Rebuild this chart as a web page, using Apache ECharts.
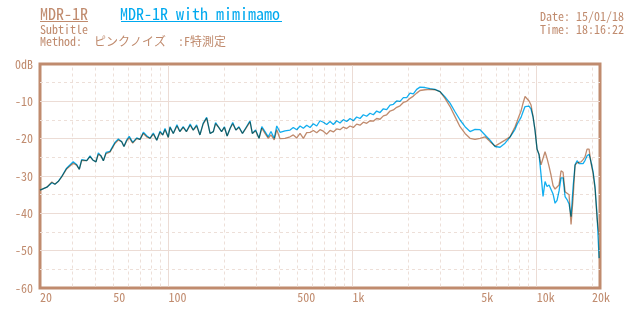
<!DOCTYPE html>
<html><head><meta charset="utf-8">
<script src="https://cdn.jsdelivr.net/npm/echarts@6/dist/echarts.min.js"></script>
<style>html,body{margin:0;padding:0;background:#fff}#c{width:640px;height:320px}</style>
</head><body><div id="c"></div>
<script>
// Frequencies (Hz) shared by both measurements
const freqHz = [
  20, 21.8, 23.2, 24.1, 25.1, 26.2, 27.9, 30.3, 31.6, 32.7, 33.7, 35.9, 37.4, 38.7, 40.3, 41.5, 42.9, 44.2, 45.7, 48.0,
  51.1, 53.3, 55.6, 57.2, 59.2, 61.1, 63.8, 67.1, 69.9, 72.9, 76.0, 79.2, 82.6, 86.2, 89.8, 92.9, 95.6, 99.6,
  101.8, 106, 111, 115, 120, 125, 131, 136, 142, 148, 154, 161, 168, 175, 180, 186, 194, 201, 208, 216,
  223, 232, 241, 252, 262, 277, 285, 297, 310, 321, 334, 348, 360, 375, 387, 403, 429,
  457, 476, 497, 518, 540, 563, 587, 612, 638, 665, 693, 723, 754, 786, 819, 854, 891, 928, 968, 1009,
  1052, 1097, 1144, 1192, 1243, 1296, 1351, 1409, 1469, 1531, 1597, 1665, 1736, 1810, 1887, 1967, 2051, 2138, 2229,
  2324, 2474, 2634, 2804, 2985, 3178, 3383, 3602, 3834, 4082, 4346, 4626, 4925, 5243, 5582, 5943, 6327, 6735, 7170,
  7633, 7826, 8025, 8228, 8437, 8651, 8870, 9095, 9325, 9562, 9804, 10053, 10307, 10569, 10836, 11111, 11393, 11682,
  11978, 12282, 12593, 12912, 13240, 13575, 13920, 14273, 14634, 15006, 15386, 15776, 16176, 16587, 17007, 17438,
  17881, 18334, 18799, 19276, 19764, 20266, 20780, 21306, 21846
];
// "MDR-1R with mimimamo" (blue)
const mimimamoDb = [
  -33.8, -33.0, -31.8, -32.2, -31.5, -30.2, -27.9, -26.2, -26.9, -28.2, -25.6, -25.9, -24.6, -25.7, -26.2, -23.8, -24.6, -25.9, -23.7, -23.4,
  -21.0, -20.1, -20.8, -22.1, -20.3, -19.4, -21.0, -19.8, -20.2, -18.3, -19.2, -19.9, -18.5, -20.4, -18.0, -19.0, -17.3, -19.6,
  -16.8, -18.6, -16.3, -18.1, -16.8, -18.1, -16.1, -17.7, -16.3, -19.0, -15.9, -14.3, -18.6, -18.1, -15.7, -16.8, -18.1, -16.8, -19.3, -17.2,
  -15.7, -17.7, -16.8, -18.6, -17.2, -15.2, -18.6, -17.7, -19.9, -16.8, -18.1, -19.5, -18.1, -19.9, -16.6, -18.3, -17.9,
  -17.7, -17.0, -17.6, -16.6, -17.2, -16.4, -17.0, -16.0, -16.6, -15.2, -15.6, -16.2, -15.4, -16.2, -15.2, -15.8, -14.9, -15.4, -14.6, -15.2,
  -14.2, -14.6, -13.6, -14.0, -13.2, -13.6, -12.6, -13.0, -12.0, -12.2, -11.0, -10.8, -9.9, -10.0, -9.0, -9.0, -7.8, -8.0, -6.8,
  -6.2, -6.3, -6.6, -6.8, -7.4, -8.8, -10.5, -12.8, -15.0, -16.8, -18.1, -17.5, -17.6, -19.0, -20.4, -22.1, -22.3, -21.2, -19.6,
  -17.5, -16.2, -15.2, -14.3, -12.8, -11.4, -11.0, -11.3, -12.1, -14.2, -17.8, -22.8, -24.3, -29.7, -35.5, -31.5, -32.8, -32.4,
  -33.6, -34.8, -37.3, -36.5, -34.0, -30.5, -30.5, -35.5, -36.3, -37.5, -40.9, -33.0, -27.0, -25.9, -26.7, -27.0,
  -26.7, -25.8, -24.6, -24.2, -26.3, -28.8, -33.0, -40.5, -52.0
];
// "MDR-1R" (brown)
const mdr1rDb = [
  -33.8, -33.0, -31.6, -32.2, -31.5, -30.3, -28.1, -26.6, -27.1, -28.2, -25.8, -25.9, -24.8, -25.7, -26.2, -24.2, -24.6, -25.9, -24.0, -23.6,
  -21.3, -20.4, -20.8, -22.1, -20.6, -19.8, -21.2, -20.0, -20.2, -18.6, -19.5, -19.9, -18.8, -20.4, -18.3, -19.0, -17.6, -19.7,
  -17.0, -18.6, -16.6, -18.1, -17.0, -18.1, -16.4, -17.7, -16.6, -19.0, -16.1, -14.5, -18.6, -18.1, -16.0, -16.8, -18.1, -17.0, -19.3, -17.2,
  -16.0, -17.7, -17.0, -18.6, -17.4, -15.5, -18.6, -17.9, -19.9, -17.2, -18.6, -19.9, -19.0, -20.3, -17.6, -20.0, -19.9,
  -19.5, -19.0, -19.8, -18.6, -19.9, -18.4, -18.3, -17.8, -18.4, -17.6, -18.0, -18.8, -17.8, -18.2, -17.4, -17.6, -16.9, -17.3, -16.6, -17.0,
  -16.1, -16.4, -15.6, -15.9, -15.2, -15.3, -14.6, -14.8, -13.9, -13.6, -12.6, -12.3, -11.6, -11.2, -10.3, -10.0, -9.2, -8.6, -7.8,
  -7.1, -6.9, -6.8, -6.9, -7.4, -9.2, -11.4, -14.1, -16.8, -18.6, -19.9, -20.2, -19.9, -19.5, -20.8, -22.0, -21.2, -20.4, -19.5,
  -16.8, -15.4, -13.9, -12.6, -10.5, -8.7, -8.9, -9.9, -11.0, -14.0, -17.8, -22.8, -24.2, -27.0, -27.5, -23.5, -25.3, -27.4,
  -29.8, -32.6, -33.5, -34.0, -32.4, -28.6, -29.0, -34.2, -33.8, -35.0, -43.0, -36.0, -27.1, -26.5, -26.2, -26.2,
  -25.6, -24.8, -22.8, -22.8, -26.6, -29.3, -33.5, -41.5, -45.8
];
// Axis ticks / gridlines
const xLabelValues = [20, 50, 100, 500, 1000, 5000, 10000, 20000];
const xLabelTexts = ['20', '50', '100', '500', '1k', '5k', '10k', '20k'];
const xMajorGrid = [100, 1000, 10000];
const xMinorGrid = [30, 40, 50, 60, 70, 80, 90, 200, 300, 400, 500, 600, 700, 800, 900,
  2000, 3000, 4000, 5000, 6000, 7000, 8000, 9000, 20000];
const yMin = -60, yMax = 0, yStep = 10;

const BROWN = '#c08b6e', BLUE = '#12aef0', TITLE_BLUE = '#00a9ef';
const GRID_SOLID = '#ecdcd5', GRID_DASH = '#eddfd8';
const FONT = '"Noto Sans Mono CJK JP", "Liberation Mono", monospace';

const gridItems = [];
xMinorGrid.forEach(f => gridItems.push([
  { coord: [f, yMin + 0.4], lineStyle: { color: GRID_DASH, type: [3, 3], width: 1 } },
  { coord: [f, yMax - 0.4] }
]));
xMajorGrid.forEach(f => gridItems.push([
  { coord: [f, yMin + 0.4], lineStyle: { color: GRID_SOLID, type: 'solid', width: 1 } },
  { coord: [f, yMax - 0.4] }
]));
const labelItems = xLabelValues.map((f, i) => [
  { coord: [f, yMin], name: xLabelTexts[i] },
  { coord: [f, yMax] }
]);

const chart = echarts.init(document.getElementById('c'), null, { renderer: 'canvas' });
chart.setOption({
  animation: false,
  backgroundColor: '#ffffff',
  title: [
    { text: 'MDR-1R', left: 40, top: 6, padding: 0,
      textStyle: { color: BROWN, fontSize: 16, fontWeight: 'normal', fontFamily: FONT, lineHeight: 16 } },
    { text: 'MDR-1R with mimimamo', left: 120, top: 6, padding: 0,
      textStyle: { color: TITLE_BLUE, fontSize: 16, fontWeight: 'normal', fontFamily: FONT, lineHeight: 16 } },
    { text: 'Subtitle\nMethod:  ピンクノイズ  :F特測定', left: 40, top: 23.7, padding: 0,
      textStyle: { color: BROWN, fontSize: 12, fontWeight: 'normal', fontFamily: FONT, lineHeight: 12 } },
    { text: 'Date: 15/01/18\nTime: 18:16:22', left: 540, top: 10.4, padding: 0,
      textStyle: { color: BROWN, fontSize: 12, fontWeight: 'normal', fontFamily: FONT, lineHeight: 12.5 } }
  ],
  graphic: [
    { type: 'line', shape: { x1: 40, y1: 21.5, x2: 88, y2: 21.5 }, style: { stroke: BROWN, lineWidth: 1 } },
    { type: 'line', shape: { x1: 121, y1: 21.5, x2: 282, y2: 21.5 }, style: { stroke: TITLE_BLUE, lineWidth: 1 } }
  ],
  grid: { left: 40, right: 40, top: 64, bottom: 32, show: true, borderColor: BROWN, borderWidth: 3,
    backgroundColor: 'transparent' },
  xAxis: {
    type: 'log', logBase: 10, min: 20, max: 22100,
    axisLine: { show: false }, axisTick: { show: false }, axisLabel: { show: false },
    splitLine: { show: false }, minorTick: { show: false }, minorSplitLine: { show: false }
  },
  yAxis: {
    type: 'value', min: yMin, max: yMax, interval: yStep,
    axisLine: { show: false }, axisTick: { show: false },
    axisLabel: { color: BROWN, fontFamily: FONT, fontSize: 12, margin: 7,
      formatter: v => (v === 0 ? '0dB' : String(v)) },
    splitLine: { show: true, showMinLine: false, showMaxLine: false,
      lineStyle: { color: GRID_SOLID, width: 1, type: 'solid' } },
    minorTick: { show: false, splitNumber: 2 },
    minorSplitLine: { show: true, lineStyle: { color: GRID_DASH, width: 1, type: [3, 3] } }
  },
  series: [
    { type: 'line', data: [], silent: true, clip: false,
      markLine: { silent: true, symbol: ['none', 'none'], z: 1, animation: false,
        label: { show: false }, emphasis: { disabled: true },
        data: gridItems } },
    { type: 'line', data: [], silent: true, clip: false,
      markLine: { silent: true, symbol: ['none', 'none'], z: 1, animation: false,
        lineStyle: { color: 'rgba(255,255,255,0)', width: 0.01, opacity: 1 },
        label: { show: true, position: 'start', distance: 3, align: 'left', color: BROWN,
          opacity: 1, fontFamily: FONT, fontSize: 12, formatter: '{b}' },
        emphasis: { disabled: true },
        data: labelItems } },
    { name: 'MDR-1R', type: 'line', z: 3, showSymbol: false, symbol: 'none',
      data: freqHz.map((f, i) => [f, mdr1rDb[i]]),
      lineStyle: { color: BROWN, width: 1.3 }, itemStyle: { color: BROWN } },
    { name: 'MDR-1R with mimimamo', type: 'line', z: 4, showSymbol: false, symbol: 'none',
      blendMode: 'multiply',
      data: freqHz.map((f, i) => [f, mimimamoDb[i]]),
      lineStyle: { color: BLUE, width: 1.3 }, itemStyle: { color: BLUE } }
  ]
});
</script>
</body></html>
